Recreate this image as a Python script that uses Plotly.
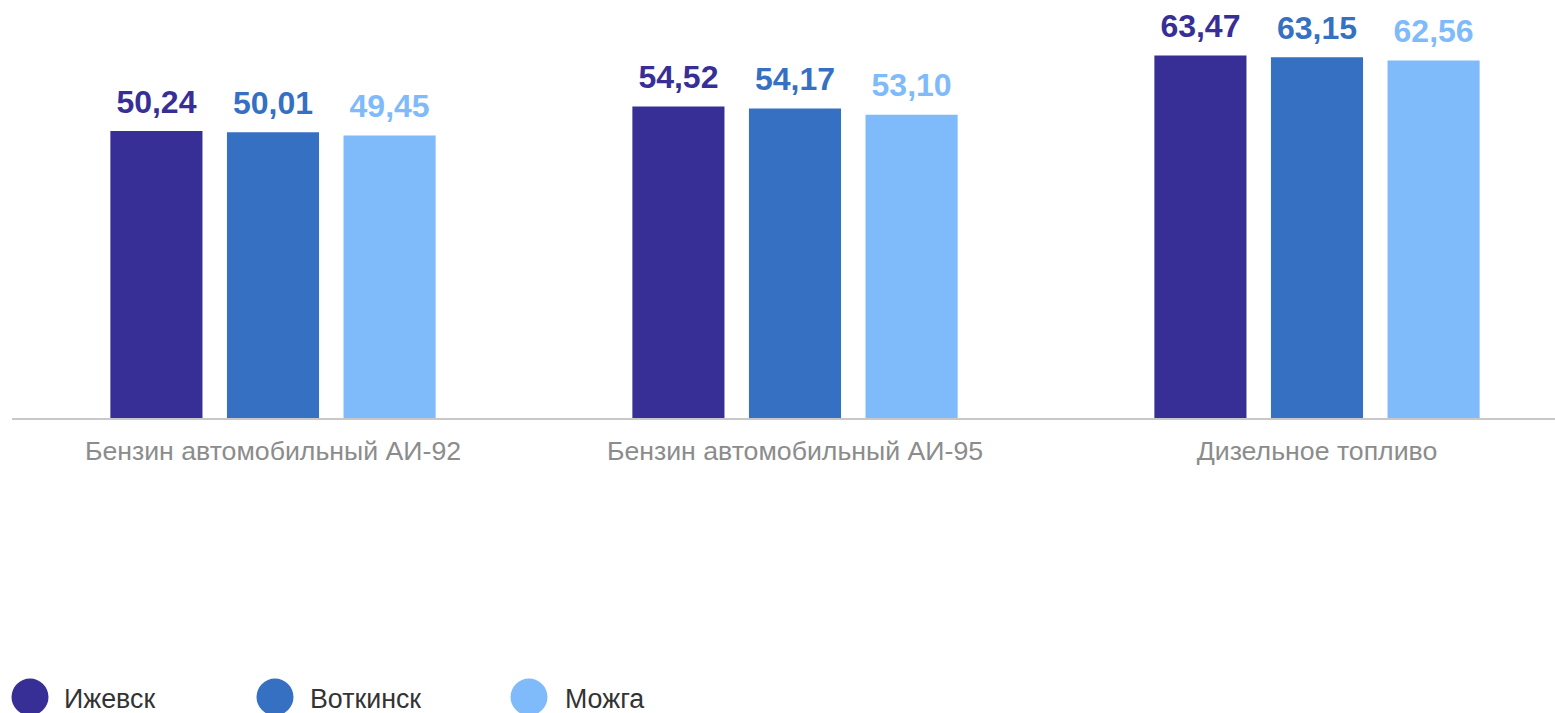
import plotly.graph_objects as go

categories = ["Бензин автомобильный АИ-92", "Бензин автомобильный АИ-95", "Дизельное топливо"]
series_names = ["Ижевск", "Воткинск", "Можга"]
izhevsk = [50.24, 54.52, 63.47]
votkinsk = [50.01, 54.17, 63.15]
mozhga = [49.45, 53.10, 62.56]
colors = ["#372f96", "#3570c2", "#7fbafb"]

values = [izhevsk, votkinsk, mozhga]
FONT = "Liberation Sans, Arial, sans-serif"

W, H = 1555, 713
ml, mt, mb = 12, 0, 295
plot_h = H - mt - mb

fig = go.Figure()
for i, (name, vals, col) in enumerate(zip(series_names, values, colors)):
    fig.add_trace(go.Bar(
        x=categories, y=vals, name=name,
        marker=dict(color=col, line=dict(width=0)),
        offsetgroup=str(i), showlegend=False, hoverinfo="x+y+name",
    ))
for i, (name, vals, col) in enumerate(zip(series_names, values, colors)):
    fig.add_trace(go.Scatter(
        x=categories, y=vals, name=name, mode="markers+text",
        marker=dict(size=15, opacity=0),
        texttemplate="<b>%{y:.2f}</b>", textposition="top center",
        textfont=dict(color=col, size=32, family=FONT),
        offsetgroup=str(i), cliponaxis=False, showlegend=False, hoverinfo="skip",
    ))

# legend drawn with large circles like the reference
legend_x = [30, 275, 529]
legend_text_x = [62, 308, 563]
legend_y = 697
for i, (name, col) in enumerate(zip(series_names, colors)):
    xp = (legend_x[i] - ml) / (W - ml)
    yp = (H - mb - legend_y) / plot_h
    fig.add_shape(type="circle", xref="paper", yref="paper",
                  xsizemode="pixel", ysizemode="pixel",
                  xanchor=xp, yanchor=yp, x0=-18.5, x1=18.5, y0=-18.5, y1=18.5,
                  fillcolor=col, line=dict(width=0))
    fig.add_annotation(xref="paper", yref="paper",
                       x=(legend_text_x[i] - ml) / (W - ml), y=(H - mb - 699) / plot_h,
                       xanchor="left", yanchor="middle", text=name, showarrow=False,
                       font=dict(size=26.8, color="#333333", family=FONT))

fig.update_layout(
    width=W, height=H,
    margin=dict(l=ml, r=0, t=mt, b=mb, pad=0),
    barmode="group", bargap=0.33, bargroupgap=0.21,
    scattermode="group", scattergap=0.33,
    separators=", ",
    plot_bgcolor="white", paper_bgcolor="white",
    showlegend=False,
    font=dict(family=FONT),
)
fig.update_xaxes(
    range=[-0.5, -0.5 + (W - ml) / 522], showgrid=False,
    showline=True, linecolor="#c8c8c8", linewidth=2,
    ticks="outside", ticklen=8, tickcolor="rgba(0,0,0,0)",
    tickfont=dict(size=26.7, color="#8c8c8c", family=FONT),
)
fig.update_yaxes(range=[0, plot_h / 5.713], showgrid=False, showticklabels=False,
                 zeroline=False, showline=False)

fig.write_html("out.html", config={"displayModeBar": False},
               post_script="document.body.style.margin='0';document.body.style.overflow='hidden';")
